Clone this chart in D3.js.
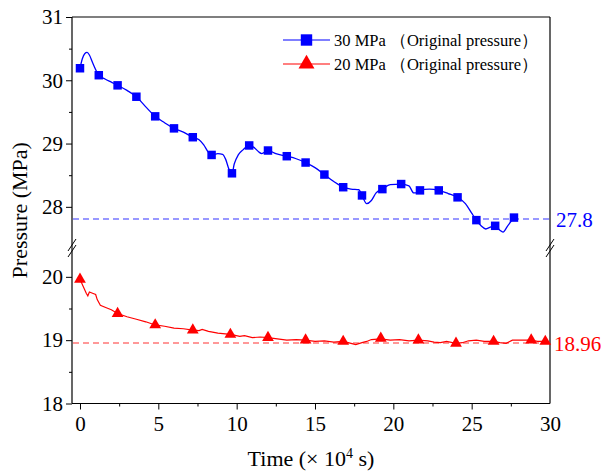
<!DOCTYPE html>
<html>
<head>
<meta charset="utf-8">
<script src="https://cdn.jsdelivr.net/npm/d3@7"></script>
<style>
  body { margin: 0; background: #fff; }
</style>
</head>
<body>
<div id="chart"></div>
<script>
// blue series: 30 MPa
const blueMarkT = [0, 1.2, 2.4, 3.6, 4.8, 6.0, 7.2, 8.4, 9.7, 10.8, 12.0, 13.2, 14.4, 15.6, 16.8, 18.0, 19.3, 20.5, 21.7, 22.9, 24.1, 25.3, 26.5, 27.7];
const blueMarkP = [30.19, 30.08, 29.92, 29.74, 29.43, 29.24, 29.10, 28.82, 28.53, 28.97, 28.89, 28.80, 28.70, 28.51, 28.31, 28.18, 28.28, 28.36, 28.26, 28.26, 28.15, 27.79, 27.70, 27.83];
const blueLineT = [0, 0.15, 0.3, 0.45, 0.6, 0.8, 1.2, 1.6, 2.0, 2.4, 3.0, 3.6, 4.2, 4.8, 5.4, 6.0, 6.6, 7.2, 7.6, 7.9, 8.2, 8.4, 8.8, 9.1, 9.3, 9.5, 9.7, 9.85, 10.1, 10.4, 10.8, 11.1, 11.4, 11.6, 12.0, 12.5, 13.2, 13.8, 14.4, 15.0, 15.6, 16.2, 16.8, 17.3, 17.8, 18.0, 18.3, 18.6, 18.9, 19.3, 19.8, 20.5, 21.0, 21.3, 21.5, 21.7, 22.3, 22.9, 23.5, 24.1, 24.6, 25.0, 25.3, 25.6, 25.9, 26.2, 26.5, 26.8, 27.0, 27.3, 27.7];
const blueLineP = [30.19, 30.34, 30.42, 30.44, 30.40, 30.28, 30.08, 30.02, 29.97, 29.92, 29.84, 29.74, 29.58, 29.43, 29.33, 29.24, 29.18, 29.10, 29.06, 28.98, 28.86, 28.82, 28.84, 28.83, 28.75, 28.60, 28.53, 28.68, 28.82, 28.90, 28.97, 28.94, 28.87, 28.84, 28.89, 28.84, 28.80, 28.76, 28.70, 28.62, 28.51, 28.40, 28.31, 28.28, 28.27, 28.18, 28.05, 28.10, 28.22, 28.28, 28.35, 28.36, 28.33, 28.22, 28.22, 28.26, 28.28, 28.26, 28.21, 28.15, 28.05, 27.90, 27.79, 27.70, 27.65, 27.68, 27.70, 27.63, 27.60, 27.70, 27.83];

// red series: 20 MPa
const redMarkT = [0, 2.4, 4.8, 7.2, 9.6, 12.0, 14.4, 16.8, 19.2, 21.6, 24.0, 26.4, 28.8, 29.7];
const redMarkP = [19.96, 19.42, 19.24, 19.16, 19.09, 19.04, 19.00, 18.98, 19.03, 19.00, 18.95, 18.98, 19.00, 18.98];
const redLineT = [0, 0.2, 0.4, 0.5, 0.6, 0.8, 1.0, 1.1, 1.3, 1.6, 2.0, 2.4, 3.0, 3.6, 4.2, 4.8, 5.4, 6.0, 6.6, 7.2, 7.6, 7.8, 8.2, 8.8, 9.6, 10.2, 10.5, 11.0, 11.5, 12.0, 12.6, 13.2, 13.8, 14.4, 15.0, 15.6, 16.2, 16.8, 17.3, 17.6, 18.0, 18.3, 18.6, 19.2, 19.8, 20.4, 21.0, 21.6, 22.2, 22.6, 23.0, 23.4, 24.0, 24.4, 24.8, 25.3, 25.8, 26.4, 26.8, 27.2, 27.6, 28.2, 28.8, 29.2, 29.7];
const redLineP = [19.96, 19.85, 19.74, 19.70, 19.76, 19.74, 19.72, 19.64, 19.55, 19.52, 19.48, 19.42, 19.37, 19.33, 19.29, 19.24, 19.22, 19.19, 19.18, 19.16, 19.15, 19.17, 19.14, 19.11, 19.09, 19.06, 19.07, 19.04, 19.05, 19.04, 19.02, 19.00, 19.01, 19.00, 18.98, 18.99, 18.97, 18.98, 18.95, 18.93, 18.96, 18.98, 19.01, 19.02, 19.00, 19.01, 18.99, 19.00, 18.99, 18.97, 18.96, 18.98, 18.95, 18.96, 18.99, 19.00, 18.98, 18.98, 18.96, 18.95, 19.00, 19.00, 19.00, 18.98, 18.98];

const refBlue = 27.8, refRed = 18.96;
const xTicks = [0, 5, 10, 15, 20, 25, 30];
const topTicks = [28, 29, 30, 31];
const bottomTicks = [18, 19, 20];
const legendLabels = ["30 MPa （Original pressure）", "20 MPa （Original pressure）"];

const W = 608, H = 473;
const padL = 72, padR = 550, padT = 17, padB = 403.5;
const breakY = 248, segTopEnd = 244.8, segBotStart = 251.5;

const serif = '"Liberation Serif", "Times New Roman", serif';
const blue = "#0000ff", red = "#ff0000";

const svg = d3.select("#chart").append("svg")
  .attr("width", W).attr("height", H);

const x = d3.scaleLinear().domain([-0.51, 30]).range([padL, padR]);
const yTop = d3.scaleLinear().domain([27.4, 31]).range([segTopEnd, padT]);
const yBot = d3.scaleLinear().domain([18, 20.4]).range([padB, segBotStart]);

// clip the segments
const defs = svg.append("defs");
defs.append("clipPath").attr("id", "clipTop").append("rect")
  .attr("x", padL).attr("y", padT).attr("width", padR - padL).attr("height", segTopEnd - padT);
defs.append("clipPath").attr("id", "clipBot").append("rect")
  .attr("x", padL).attr("y", segBotStart).attr("width", padR - padL).attr("height", padB - segBotStart);

// frame
const ax = svg.append("g").attr("stroke", "#000").attr("stroke-width", 1.2);
ax.append("line").attr("x1", padL).attr("x2", padL).attr("y1", padT).attr("y2", padB);
ax.append("line").attr("x1", padR).attr("x2", padR).attr("y1", padT).attr("y2", padB);
ax.append("line").attr("x1", padL).attr("x2", padR).attr("y1", padT).attr("y2", padT);

// axes
const styleTicks = g => g.selectAll("text")
  .style("font-family", serif).style("font-size", "21px").style("fill", "#000");

svg.append("g").attr("transform", `translate(0,${padB})`)
  .call(d3.axisBottom(x).tickValues(xTicks).tickSize(6).tickSizeOuter(0).tickPadding(7))
  .call(g => g.select(".domain").attr("stroke-width", 1.2).attr("d", `M${padL},0H${padR}`))
  .call(styleTicks)
  .call(g => g.selectAll(".tick").filter(d => d === 30).select("line").remove());
svg.append("g").attr("transform", `translate(0,${padB})`)
  .call(d3.axisBottom(x).tickValues([2.5, 7.5, 12.5, 17.5, 22.5, 27.5]).tickSize(3).tickFormat(""))
  .call(g => g.select(".domain").remove());

svg.append("g").attr("transform", `translate(${padL},0)`)
  .call(d3.axisLeft(yTop).tickValues(topTicks).tickSize(6).tickPadding(3).tickFormat(d3.format("d")))
  .call(g => g.select(".domain").remove())
  .call(styleTicks);
svg.append("g").attr("transform", `translate(${padL},0)`)
  .call(d3.axisLeft(yTop).tickValues([28.5, 29.5, 30.5]).tickSize(3).tickFormat(""))
  .call(g => g.select(".domain").remove());
svg.append("g").attr("transform", `translate(${padL},0)`)
  .call(d3.axisLeft(yBot).tickValues(bottomTicks).tickSize(6).tickPadding(3).tickFormat(d3.format("d")))
  .call(g => g.select(".domain").remove())
  .call(styleTicks);
svg.append("g").attr("transform", `translate(${padL},0)`)
  .call(d3.axisLeft(yBot).tickValues([18.5, 19.5]).tickSize(3).tickFormat(""))
  .call(g => g.select(".domain").remove());

// break marks
[padL, padR].forEach(bx => {
  const g = svg.append("g").attr("transform", `translate(${bx},${breakY})`);
  [-3, 3].forEach(o => {
    g.append("line").attr("x1", -4).attr("y1", o + 6).attr("x2", 4).attr("y2", o - 6)
      .attr("stroke", "#000").attr("stroke-width", 1);
  });
});

// reference lines
const yb = Math.round(yTop(refBlue)), yr = Math.round(yBot(refRed));
svg.append("line")
  .attr("x1", padL + 1).attr("x2", padR - 1).attr("y1", yb).attr("y2", yb)
  .style("stroke", "#3333ff").style("stroke-width", "1.2px").style("stroke-dasharray", "6,4");
svg.append("line")
  .attr("x1", padL + 1).attr("x2", padR - 1).attr("y1", yr).attr("y2", yr)
  .style("stroke", "#ff3333").style("stroke-width", "1.2px").style("stroke-dasharray", "6,4");

svg.append("text").attr("x", padR + 6).attr("y", yb + 8)
  .style("fill", blue).style("font-family", serif).style("font-size", "21px").text(refBlue);
svg.append("text").attr("x", padR + 4).attr("y", yr + 8)
  .style("fill", red).style("font-family", serif).style("font-size", "21px").text(refRed);

// lines
const blueLine = d3.line().x((d, i) => x(blueLineT[i])).y(d => yTop(d)).curve(d3.curveMonotoneX);
svg.append("path").attr("clip-path", "url(#clipTop)")
  .attr("d", blueLine(blueLineP))
  .attr("fill", "none").attr("stroke", blue).attr("stroke-width", 1.3);

const redLine = d3.line().x((d, i) => x(redLineT[i])).y(d => yBot(d));
svg.append("path").attr("clip-path", "url(#clipBot)")
  .attr("d", redLine(redLineP))
  .attr("fill", "none").attr("stroke", red).attr("stroke-width", 1.2);

// markers
svg.selectAll(".bm").data(blueMarkP).join("path")
  .attr("class", "bm")
  .attr("d", d3.symbol(d3.symbolSquare, 72))
  .attr("transform", (d, i) => `translate(${x(blueMarkT[i])},${yTop(d)})`)
  .attr("fill", blue);

svg.selectAll(".rm").data(redMarkP).join("path")
  .attr("class", "rm")
  .attr("d", d3.symbol(d3.symbolTriangle, 60))
  .attr("transform", (d, i) => `translate(${x(redMarkT[i])},${yBot(d)})`)
  .attr("fill", red);

// axis titles
svg.append("text")
  .attr("transform", `translate(27,${(padT + padB) / 2}) rotate(-90)`)
  .attr("text-anchor", "middle")
  .style("font-family", serif).style("font-size", "22px")
  .text("Pressure (MPa)");
const xt = svg.append("text")
  .attr("x", (padL + padR) / 2).attr("y", 466)
  .attr("text-anchor", "middle")
  .style("font-family", serif).style("font-size", "22px");
xt.append("tspan").text("Time (× 10");
xt.append("tspan").attr("dy", -8).style("font-size", "14px").text("4");
xt.append("tspan").attr("dy", 8).text(" s)");

// legend
const legColors = [blue, red];
const legSym = [d3.symbol(d3.symbolSquare, 130), d3.symbol(d3.symbolTriangle, 110)];
legendLabels.forEach((lab, i) => {
  const ly = 40 + i * 24;
  const g = svg.append("g");
  g.append("line").attr("x1", 283).attr("x2", 330).attr("y1", ly).attr("y2", ly)
    .attr("stroke", legColors[i]).attr("stroke-width", 1.2);
  g.append("path").attr("d", legSym[i]).attr("transform", `translate(306.5,${ly})`)
    .attr("fill", legColors[i]);
  g.append("text").attr("x", 334).attr("y", ly + 6)
    .style("font-family", serif).style("font-size", "16.5px").text(lab);
});
</script>
</body>
</html>
